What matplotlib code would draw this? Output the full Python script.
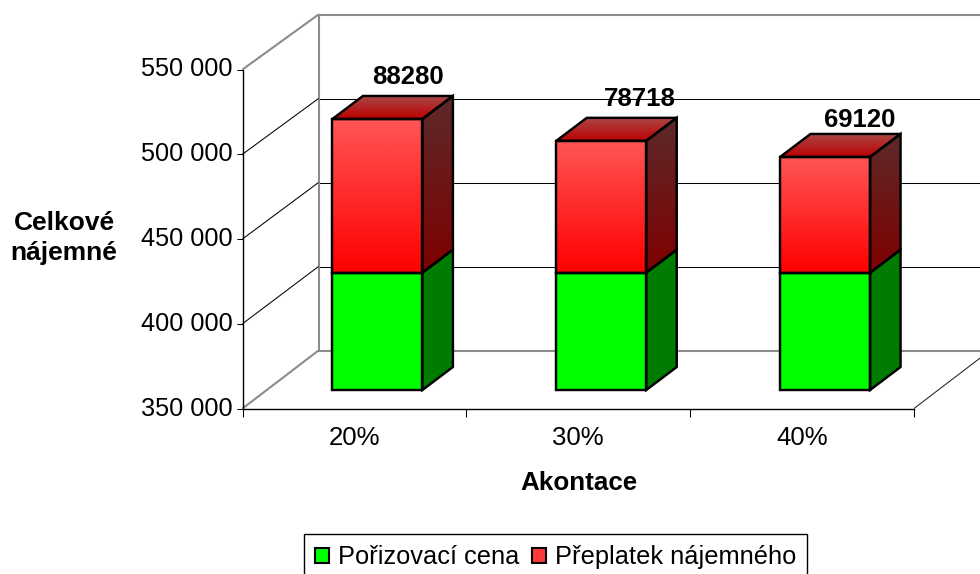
import numpy as np
import matplotlib
matplotlib.use("Agg")
import matplotlib.pyplot as plt
from matplotlib.patches import Polygon, Patch
from matplotlib.lines import Line2D
from matplotlib.ticker import FuncFormatter
from matplotlib.transforms import ScaledTranslation

# ---- data
categories = ["20%", "30%", "40%"]
purchase_price = [419200, 419200, 419200]
overpayment = [90700, 77800, 68300]
value_labels = ["88280", "78718", "69120"]
series_names = ["Pořizovací cena", "Přeplatek nájemného"]
y_ticks = [350000, 400000, 450000, 500000, 550000]
x_title = "Akontace"
y_title = "Celkové\nnájemné"

# ---- layout (pixels)
W, H = 980, 574
FRONT = (242.5, 914.0, 69.5, 408.5)   # left, right, top, bottom
BACK = (318.5, 990.0, 14.5, 350.5)
BAR_WIDTH = 0.402
BAR_SHIFT = (23.0, 18.5)
BAR_DEPTH = (30.5, 23.0)
LABEL_OFFSETS = [(31, 42), (39, 42), (35, 37)]
FONT = "Liberation Sans"
GREY = "#8c8c8c"

plt.rcParams["font.family"] = FONT

def rect(box):
    l, r, t, b = box
    return [l / W, 1 - b / H, (r - l) / W, (b - t) / H]

fig = plt.figure(figsize=(W / 100, H / 100), dpi=100, facecolor="white")

# back wall
ax_back = fig.add_axes(rect(BACK), zorder=0)
ax_back.set_xlim(0, 3)
ax_back.set_ylim(y_ticks[0], y_ticks[-1])
ax_back.set_xticks([])
ax_back.set_yticks(y_ticks[1:-1])
ax_back.tick_params(axis="y", length=0, labelleft=False)
ax_back.grid(axis="y", color="black", lw=0.75)
ax_back.spines["right"].set_visible(False)
for s in ("left", "top", "bottom"):
    ax_back.spines[s].set_color(GREY)
    ax_back.spines[s].set_linewidth(1.5)

# front plane with real axes
ax = fig.add_axes(rect(FRONT), zorder=1)
ax.patch.set_alpha(0)
ax.set_xlim(0, 3)
ax.set_ylim(y_ticks[0], y_ticks[-1])
ax.spines["top"].set_visible(False)
ax.spines["right"].set_visible(False)
for s in ("left", "bottom"):
    ax.spines[s].set_linewidth(1.0)
ax.set_yticks(y_ticks)
ax.yaxis.set_major_formatter(FuncFormatter(lambda v, _: f"{int(v):,}".replace(",", " ")))
ax.set_xticks([0, 1, 2, 3])
ax.set_xticklabels([])
ax.set_xticks([i + 0.5 for i in range(len(categories))], minor=True)
ax.set_xticklabels(categories, minor=True)
ax.tick_params(axis="x", which="major", length=5.5, width=0.75)
ax.tick_params(axis="x", which="minor", length=0, labelsize=18.5, pad=12.5)
ax.tick_params(axis="y", length=4, width=0.75, labelsize=18.2, pad=3)
lift = ScaledTranslation(0, 2.5 / 100, fig.dpi_scale_trans)
for lab in ax.get_yticklabels():
    lab.set_transform(lab.get_transform() + lift)

ax.set_xlabel(x_title, fontsize=18.7, fontweight="bold", labelpad=0)
ax.xaxis.set_label_coords((579 - FRONT[0]) / (FRONT[1] - FRONT[0]),
                          1 - (471 - FRONT[2]) / (FRONT[3] - FRONT[2]))
fig.text(64 / W, 1 - 238 / H, y_title, fontsize=19, fontweight="bold",
         ha="center", va="center", linespacing=1.35)

def seg(p, q, color, lw, z=0.5):
    fig.add_artist(Line2D([p[0] / W, q[0] / W], [p[1] / H, q[1] / H],
                          color=color, lw=lw, zorder=z, solid_capstyle="butt"))

# side-wall and floor diagonals join the front plane to the back wall
for v in y_ticks:
    p = ax.transData.transform((0, v))
    q = ax_back.transData.transform((0, v))
    end = v in (y_ticks[0], y_ticks[-1])
    seg(p, q, GREY if end else "black", 1.5 if end else 0.75)
p = ax.transData.transform((3, y_ticks[0]))
q = ax_back.transData.transform((3, y_ticks[0]))
seg(p, q, "#222222", 0.75)

# bars drawn on an overlay in display pixels
ov = fig.add_axes([0, 0, 1, 1], zorder=2)
ov.set_xlim(0, W)
ov.set_ylim(0, H)
ov.axis("off")

def gradient_face(pts, top, bottom):
    pts = np.array(pts)
    (l, b), (r, t) = pts.min(axis=0), pts.max(axis=0)
    grad = np.linspace(0, 1, 64)[:, None, None]
    arr = (np.array(top)[None, None, :] * (1 - grad) + np.array(bottom)[None, None, :] * grad) / 255
    im = ov.imshow(arr, extent=(l, r, b, t), origin="upper", aspect="auto",
                   interpolation="bilinear", zorder=3)
    poly = Polygon(pts, closed=True, facecolor="none", edgecolor="black", lw=1.75,
                   joinstyle="miter", zorder=4)
    ov.add_patch(poly)
    im.set_clip_path(poly)
    im.set_clip_box(fig.bbox)

def box(x0, x1, v0, v1, front, side, top=None):
    a = ax.transData.transform((x0, v0)) + BAR_SHIFT
    b = ax.transData.transform((x1, v1)) + BAR_SHIFT
    d = np.array(BAR_DEPTH)
    fl, fr, fb, ft = a[0], b[0], a[1], b[1]
    gradient_face([(fl, fb), (fr, fb), (fr, ft), (fl, ft)], *front)
    gradient_face([(fr, fb), (fr + d[0], fb + d[1]), (fr + d[0], ft + d[1]), (fr, ft)], *side)
    if top is not None:
        gradient_face([(fl, ft), (fr, ft), (fr + d[0], ft + d[1]), (fl + d[0], ft + d[1])], *top)

GREEN_FRONT = ((0, 255, 0), (0, 255, 0))
GREEN_SIDE = ((0, 125, 0), (0, 125, 0))
RED_FRONT = ((255, 85, 85), (255, 0, 0))
RED_SIDE = ((92, 42, 42), (128, 0, 0))
RED_TOP = ((170, 70, 70), (190, 0, 0))

for i, cat in enumerate(categories):
    c = i + 0.5
    x0, x1 = c - BAR_WIDTH / 2, c + BAR_WIDTH / 2
    base = y_ticks[0]
    g = purchase_price[i]
    t = g + overpayment[i]
    box(x0, x1, base, g, GREEN_FRONT, GREEN_SIDE)
    box(x0, x1, g, t, RED_FRONT, RED_SIDE, RED_TOP)
    px = ax.transData.transform((c, t)) + BAR_SHIFT
    dx, dy = LABEL_OFFSETS[i]
    ov.text(px[0] + dx, px[1] + dy, value_labels[i], ha="center", va="center",
            fontsize=18.5, fontweight="bold", zorder=6)

ov.set_xlim(0, W)
ov.set_ylim(0, H)

# legend
handles = [Patch(facecolor="#00ff00", edgecolor="black", lw=1.5),
           Patch(facecolor="#ff3a3a", edgecolor="black", lw=1.5)]
leg = fig.legend(handles, series_names, ncol=2, loc="upper left",
                 bbox_to_anchor=(304 / W, 1 - 534 / H),
                 fontsize=18.3, frameon=True, fancybox=False, edgecolor="black",
                 framealpha=1, borderaxespad=0, handlelength=0.55, handleheight=0.55,
                 handletextpad=0.35, columnspacing=0.47, borderpad=0.45)
leg.get_frame().set_linewidth(1.0)
leg.set_zorder(10)

fig.savefig("out.png", dpi=100, facecolor="white")
